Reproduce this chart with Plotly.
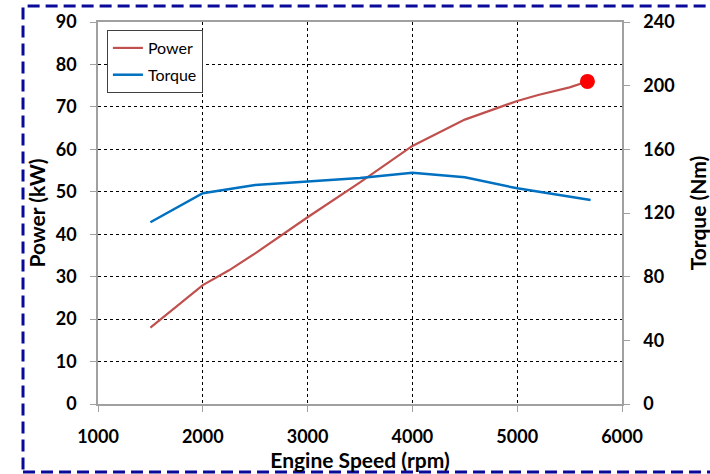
import plotly.graph_objects as go

# Data
power_rpm = [1500, 2000, 2250, 2500, 3000, 3500, 4000, 4500, 5000, 5200, 5500, 5670]
power_kw = [18.0, 28.0, 31.5, 35.5, 44.0, 52.2, 60.8, 67.0, 71.4, 72.8, 74.6, 76.0]

torque_rpm = [1500, 2000, 2500, 3000, 3500, 4000, 4500, 5000, 5500, 5700]
torque_nm = [114.2, 132.4, 137.6, 139.7, 142.0, 145.3, 142.4, 135.5, 130.0, 128.2]

x_ticks = [1000, 2000, 3000, 4000, 5000, 6000]
y_ticks = [0, 10, 20, 30, 40, 50, 60, 70, 80, 90]
y2_ticks = [0, 40, 80, 120, 160, 200, 240]

FONT = "Lato"
TITLE_FONT = dict(family=FONT, size=21, color="black", weight="bold")

fig = go.Figure()
fig.add_trace(go.Scatter(x=power_rpm, y=power_kw, mode="lines", name="Power",
                         legendgroup="p",
                         line=dict(color="#C0504D", width=2.2)))
fig.add_trace(go.Scatter(x=torque_rpm, y=torque_nm, mode="lines", name="Torque",
                         legendgroup="t",
                         yaxis="y2", line=dict(color="#0070C0", width=2.5)))
fig.add_trace(go.Scatter(x=[power_rpm[-1]], y=[power_kw[-1]], mode="markers",
                         showlegend=False, marker=dict(color="#FF0000", size=15)))

axis_common = dict(showline=True, linecolor="#A0A0A0", linewidth=1.5,
                   ticks="outside", tickcolor="#A0A0A0", ticklen=6,
                   tickfont=dict(family=FONT, size=18, color="black", weight="bold"),
                   zeroline=False, automargin=False)

fig.update_layout(
    width=710, height=474,
    margin=dict(l=98, r=88, t=22, b=70),
    paper_bgcolor="white", plot_bgcolor="white",
    xaxis=dict(range=[1000, 6000], tickvals=x_ticks, showgrid=True,
               gridcolor="black", griddash="dot", gridwidth=1, mirror=True,
               ticklabelstandoff=10,
               title=dict(text="Engine Speed (rpm)", standoff=1, font=TITLE_FONT),
               **axis_common),
    yaxis=dict(range=[0, 90], tickvals=y_ticks, showgrid=True,
               gridcolor="black", griddash="dot", gridwidth=1, mirror=True,
               ticklabelstandoff=10,
               title=dict(text="Power (kW)", standoff=4, font=TITLE_FONT),
               **axis_common),
    yaxis2=dict(range=[0, 240], tickvals=y2_ticks, overlaying="y", side="right",
                showgrid=False, ticklabelstandoff=10,
                title=dict(text="Torque (Nm)", standoff=19, font=TITLE_FONT),
                **axis_common),
    legend=dict(x=0.017, y=0.979, xanchor="left", yanchor="top",
                bgcolor="white", bordercolor="#404040", borderwidth=1,
                font=dict(family=FONT, size=16, color="black"),
                itemwidth=30, tracegroupgap=3),
    shapes=[dict(type="rect", xref="paper", yref="paper",
                 x0=-0.1431, x1=1.18, y0=-0.178, y1=1.0419,
                 line=dict(color="#0A0A9A", width=3, dash="12px,6px"),
                 fillcolor="rgba(0,0,0,0)", layer="above")],
)

fig.write_html("out.html")
